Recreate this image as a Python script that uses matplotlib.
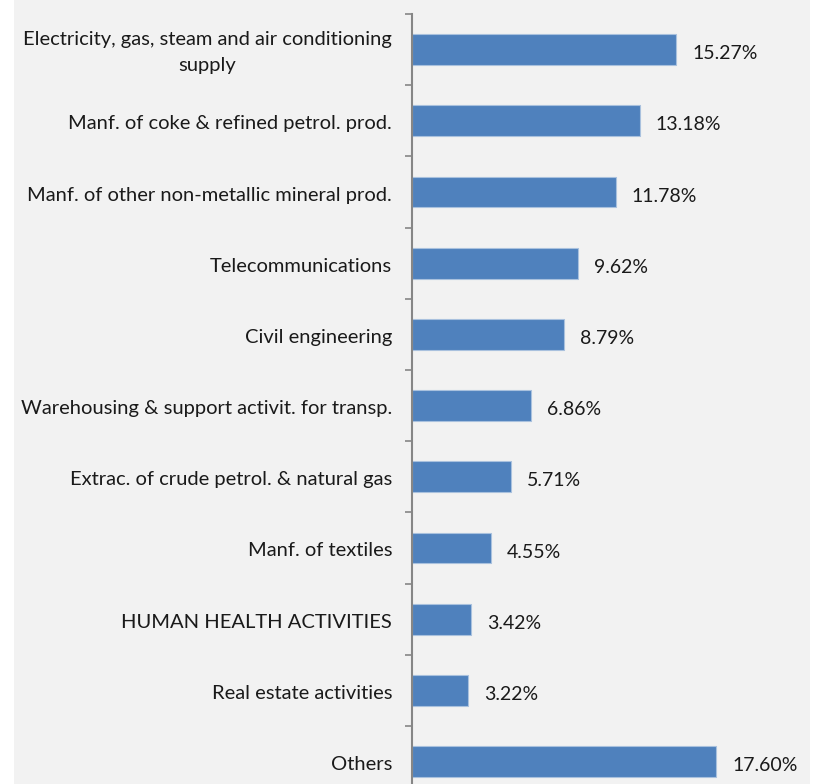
import matplotlib.pyplot as plt
import matplotlib.transforms as mtransforms
from matplotlib.patches import Rectangle

categories = [
    "Electricity, gas, steam and air conditioning\nsupply",
    "Manf. of coke & refined petrol. prod.",
    "Manf. of other non-metallic mineral prod.",
    "Telecommunications",
    "Civil engineering",
    "Warehousing & support activit. for transp.",
    "Extrac. of crude petrol. & natural gas",
    "Manf. of textiles",
    "HUMAN HEALTH ACTIVITIES",
    "Real estate activities",
    "Others",
]
values = [15.27, 13.18, 11.78, 9.62, 8.79, 6.86, 5.71, 4.55, 3.42, 3.22, 17.60]

W, H = 813, 784
plt.rcParams['font.family'] = ['Lato', 'DejaVu Sans']

fig = plt.figure(figsize=(W / 100, H / 100), dpi=100, facecolor='white')

# gray chart-area background
fig.patches.append(Rectangle((14 / W, 0), (W - 17) / W, 1, transform=fig.transFigure,
                             facecolor='#f2f2f2', edgecolor='none', zorder=-10))

band = 71.2
n = len(categories)
ax = fig.add_axes([412 / W, (H - 14 - n * band) / H, 345.8 / W, n * band / H])
ax.set_facecolor('none')

ypos = list(range(n))
ax.barh(ypos, values, height=0.435, color='#4f81bd', edgecolor='#a9c1de', linewidth=0.8)
ax.set_xlim(0, 20)
ax.set_ylim(n - 0.5, -0.5)

for y, v in zip(ypos, values):
    ax.annotate(f"{v:.2f}%", (v, y), xytext=(16, -4), textcoords='offset pixels',
                va='center', ha='left', fontsize=14, color='#1a1a1a')

label_tr = mtransforms.blended_transform_factory(ax.transAxes, ax.transData) + \
    mtransforms.ScaledTranslation(-20 / 100, -3 / 100, fig.dpi_scale_trans)
for y, c in zip(ypos, categories):
    ax.text(0, y, c, transform=label_tr, ha='right', va='center', multialignment='center',
            fontsize=14.5, color='#1a1a1a', linespacing=1.7)

# boundary tick marks
ax.set_yticks([i - 0.5 for i in range(n + 1)])
ax.set_yticklabels([])
ax.tick_params(axis='y', length=5, width=1.2, color='#868686', direction='out')

ax.set_xticks([])
for s in ['top', 'right', 'bottom']:
    ax.spines[s].set_visible(False)
ax.spines['left'].set_color('#868686')
ax.spines['left'].set_linewidth(1.5)

fig.savefig('out.png', dpi=100, facecolor=fig.get_facecolor())
